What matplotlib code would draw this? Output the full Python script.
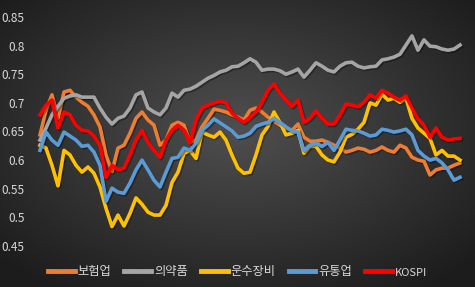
import numpy as np
import matplotlib
matplotlib.use("Agg")
import matplotlib.pyplot as plt
from matplotlib import patheffects as pe

plt.rcParams['font.family'] = ['Noto Sans CJK KR', 'DejaVu Sans']

labels = ["보험업", "의약품", "운수장비", "유통업", "KOSPI"]
colors = ["#ED7D31", "#A5A5A5", "#FFC000", "#5B9BD5", "#FF0000"]
yticks = [0.45, 0.5, 0.55, 0.6, 0.65, 0.7, 0.75, 0.8, 0.85]
ytick_labels = ["0.45", "0.5", "0.55", "0.6", "0.65", "0.7", "0.75", "0.8", "0.85"]

insurance = [0.644, 0.687, 0.714, 0.673, 0.719, 0.722, 0.710, 0.701, 0.694, 0.679,
             0.658, 0.609, 0.580, 0.621, 0.626, 0.647, 0.673, 0.684, 0.670, 0.661,
             0.626, 0.635, 0.661, 0.666, 0.661, 0.631, 0.635, 0.658, 0.673, 0.689,
             0.687, 0.684, 0.679, 0.675, 0.670, 0.687, 0.691, 0.684, 0.675, 0.668,
             0.661, 0.656, 0.652, 0.663, 0.640, 0.633, 0.633, 0.635, 0.631, 0.626,
             0.621, 0.614, 0.617, 0.621, 0.619, 0.614, 0.617, 0.623, 0.617, 0.614,
             0.626, 0.621, 0.605, 0.600, 0.598, 0.574, 0.583, 0.586, 0.586, 0.591,
             0.595]

pharma = [0.635, 0.656, 0.679, 0.694, 0.708, 0.712, 0.714, 0.710, 0.710, 0.710,
          0.691, 0.675, 0.663, 0.673, 0.677, 0.691, 0.714, 0.719, 0.691, 0.684,
          0.679, 0.691, 0.717, 0.710, 0.722, 0.724, 0.729, 0.736, 0.743, 0.748,
          0.754, 0.757, 0.763, 0.764, 0.770, 0.777, 0.771, 0.757, 0.759, 0.759,
          0.756, 0.750, 0.754, 0.759, 0.745, 0.757, 0.770, 0.764, 0.757, 0.754,
          0.764, 0.770, 0.771, 0.764, 0.761, 0.763, 0.764, 0.775, 0.777, 0.780,
          0.785, 0.801, 0.817, 0.792, 0.810, 0.799, 0.798, 0.794, 0.792, 0.794,
          0.801]

transport = [0.626, 0.621, 0.591, 0.555, 0.617, 0.609, 0.591, 0.579, 0.588, 0.577,
             0.553, 0.516, 0.484, 0.504, 0.485, 0.507, 0.534, 0.523, 0.509, 0.504,
             0.504, 0.521, 0.561, 0.579, 0.612, 0.617, 0.603, 0.649, 0.644, 0.640,
             0.649, 0.635, 0.609, 0.586, 0.577, 0.579, 0.609, 0.644, 0.659, 0.684,
             0.666, 0.644, 0.647, 0.652, 0.612, 0.624, 0.624, 0.609, 0.600, 0.597,
             0.614, 0.640, 0.645, 0.654, 0.666, 0.700, 0.696, 0.715, 0.705, 0.708,
             0.701, 0.708, 0.673, 0.656, 0.647, 0.638, 0.609, 0.617, 0.607, 0.607,
             0.600]

retail = [0.617, 0.649, 0.635, 0.626, 0.649, 0.642, 0.635, 0.624, 0.626, 0.614,
          0.591, 0.528, 0.551, 0.544, 0.542, 0.560, 0.583, 0.600, 0.583, 0.565,
          0.553, 0.579, 0.603, 0.605, 0.621, 0.617, 0.630, 0.652, 0.661, 0.672,
          0.665, 0.658, 0.651, 0.640, 0.642, 0.647, 0.659, 0.663, 0.666, 0.673,
          0.666, 0.658, 0.651, 0.649, 0.617, 0.626, 0.630, 0.624, 0.631, 0.617,
          0.635, 0.654, 0.652, 0.651, 0.647, 0.642, 0.644, 0.654, 0.652, 0.649,
          0.651, 0.654, 0.644, 0.617, 0.607, 0.600, 0.603, 0.595, 0.583, 0.565,
          0.570]

kospi = [0.679, 0.696, 0.705, 0.656, 0.684, 0.679, 0.661, 0.652, 0.651, 0.642,
         0.626, 0.570, 0.591, 0.583, 0.586, 0.609, 0.635, 0.652, 0.631, 0.617,
         0.605, 0.635, 0.652, 0.661, 0.652, 0.630, 0.670, 0.691, 0.696, 0.700,
         0.703, 0.700, 0.682, 0.673, 0.666, 0.675, 0.684, 0.701, 0.722, 0.733,
         0.717, 0.705, 0.694, 0.705, 0.666, 0.673, 0.686, 0.673, 0.663, 0.663,
         0.679, 0.698, 0.696, 0.693, 0.701, 0.714, 0.708, 0.722, 0.717, 0.710,
         0.705, 0.712, 0.691, 0.672, 0.661, 0.640, 0.656, 0.640, 0.635, 0.637,
         0.638]

series = [insurance, pharma, transport, retail, kospi]

fig = plt.figure(figsize=(4.75, 2.87), dpi=100)

# dark radial background
bg = fig.add_axes([0, 0, 1, 1], zorder=0)
yy, xx = np.mgrid[0:1:287j, 0:1:475j]
r = np.sqrt(((xx - 0.5) / 0.75) ** 2 + ((yy - 0.45) / 0.75) ** 2)
shade = np.clip(0.31 - 0.22 * r, 0.11, 0.31)
bg.imshow(np.dstack([shade] * 3), aspect='auto', extent=[0, 1, 0, 1])
bg.axis('off')

ax = fig.add_axes([40 / 475, 1 - 246 / 287, 420 / 475, 229 / 287], zorder=1)
ax.patch.set_alpha(0)
x = np.arange(len(insurance))
shadow = [pe.SimpleLineShadow(offset=(1, -1), shadow_color='black', alpha=0.35), pe.Normal()]
for vals, lab, c in zip(series, labels, colors):
    ax.plot(x, vals, color=c, lw=2.6, label=lab, solid_joinstyle='round',
            path_effects=shadow, clip_on=False)

ax.set_xlim(0, len(insurance) - 1)
ax.set_ylim(0.45, 0.85)
ax.set_yticks(yticks)
ax.set_yticklabels(ytick_labels)
ax.set_xticks([])
ax.tick_params(axis='y', length=0, pad=11, labelsize=8.5, labelcolor='#d9d9d9')
for s in ax.spines.values():
    s.set_visible(False)

leg = fig.legend(loc='center', bbox_to_anchor=(0.5, 1 - 272 / 287), ncol=5, frameon=False,
                 fontsize=8.8, handlelength=2.2, handletextpad=0.25, columnspacing=1.05,
                 labelcolor='#d9d9d9')
for h in leg.get_lines():
    h.set_linewidth(3.5)
    h.set_path_effects([])
leg.get_texts()[-1].set_fontsize(8)

fig.savefig("out.png", dpi=100)
